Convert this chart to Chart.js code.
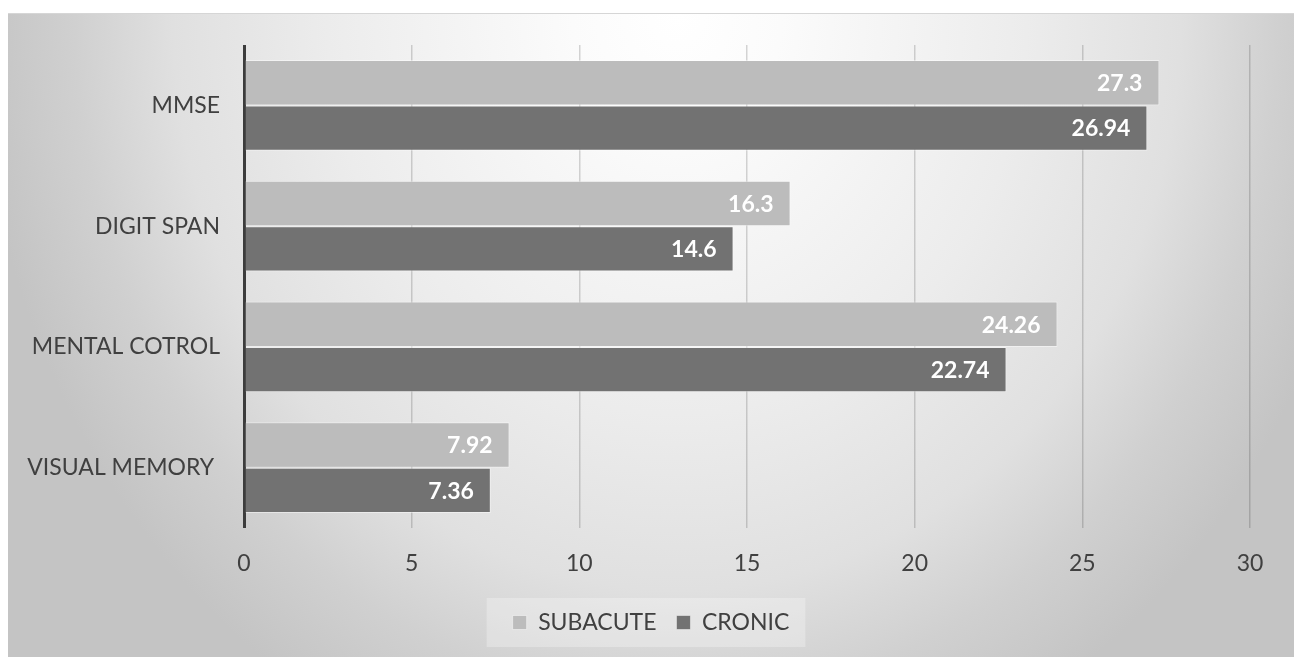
<!DOCTYPE html>
<html>
<head>
<meta charset="utf-8">
<script src="https://cdn.jsdelivr.net/npm/chart.js@4.4.0/dist/chart.umd.min.js"></script>
<style>
  html, body { margin: 0; padding: 0; background: #ffffff; }
  body { width: 1294px; height: 657px; position: relative; overflow: hidden; }
  #wrap {
    position: absolute; left: 8px; top: 13px; width: 1286px; height: 644px;
    background: radial-gradient(ellipse 700px 800px at 669px 0px, #ffffff 0%, #fbfbfb 15%, #ececec 50%, #e0e0e0 72%, #d0d0d0 86%, #c4c4c4 100%);
    border-top: 1px solid #d6d6d6;
    box-sizing: border-box;
  }
  canvas { display: block; }
</style>
</head>
<body>
<div id="wrap"><canvas id="c" width="1286" height="643"></canvas></div>
<script>
const categories = ["MMSE", "DIGIT SPAN", "MENTAL COTROL", "VISUAL MEMORY "];
const subacuteValues = [27.3, 16.3, 24.26, 7.92];
const cronicValues = [26.94, 14.6, 22.74, 7.36];
const seriesNames = ["SUBACUTE", "CRONIC"];
const xTicks = [0, 5, 10, 15, 20, 25, 30];

const FONT = "Lato, 'Open Sans', sans-serif";

const valueLabels = {
  id: 'valueLabels',
  afterDatasetsDraw(chart) {
    const ctx = chart.ctx;
    ctx.save();
    ctx.font = "bold 23px " + FONT;
    ctx.fillStyle = "#ffffff";
    ctx.textAlign = "right";
    ctx.textBaseline = "middle";
    chart.data.datasets.forEach((ds, di) => {
      const meta = chart.getDatasetMeta(di);
      meta.data.forEach((el, i) => {
        ctx.fillText(String(ds.data[i]), el.x - 17, el.y + 1);
      });
    });
    ctx.restore();
  }
};

const legendCenter = {
  id: 'legendCenter',
  afterLayout(chart) {
    const lg = chart.legend;
    if (lg) { lg.left = 0; lg.right = chart.width; lg.width = chart.width; }
  }
};

const legendBg = {
  id: 'legendBg',
  beforeDraw(chart) {
    const lg = chart.legend;
    if (!lg || !lg.legendHitBoxes || !lg.legendHitBoxes.length) return;
    const hb = lg.legendHitBoxes;
    let minX = Infinity, maxX = -Infinity, cy = 0;
    hb.forEach(b => { minX = Math.min(minX, b.left); maxX = Math.max(maxX, b.left + b.width); cy += b.top + b.height / 2; });
    cy /= hb.length;
    const ctx = chart.ctx;
    ctx.save();
    ctx.fillStyle = "rgba(255,255,255,0.28)";
    ctx.fillRect(minX - 26, cy - 24.5, (maxX - minX) + 42, 49);
    ctx.restore();
  }
};

new Chart(document.getElementById('c'), {
  type: 'bar',
  data: {
    labels: categories,
    datasets: [
      { label: seriesNames[0], data: subacuteValues, backgroundColor: "#bcbcbc", borderColor: "rgba(255,255,255,0.45)", borderWidth: 1 },
      { label: seriesNames[1], data: cronicValues, backgroundColor: "#727272", borderColor: "rgba(255,255,255,0.45)", borderWidth: 1 }
    ]
  },
  options: {
    indexAxis: 'y',
    responsive: false,
    animation: false,
    devicePixelRatio: 1,
    layout: { padding: { top: 31, right: 44, left: 0, bottom: 13 } },
    datasets: { bar: { categoryPercentage: 0.75, barPercentage: 1.0 } },
    scales: {
      x: {
        min: 0, max: 30,
        afterBuildTicks(scale) { scale.ticks = xTicks.map(v => ({ value: v })); },
        afterFit(scale) { scale.height = 63; },
        grid: {
          drawTicks: false,
          color: (c) => c.tick && c.tick.value === 0 ? "#3c3c3c" : "rgba(0,0,0,0.16)",
          lineWidth: (c) => c.tick && c.tick.value === 0 ? 3 : 1.5
        },
        border: { display: false },
        ticks: { padding: 22, color: "#404040", font: { family: FONT, size: 23 } }
      },
      y: {
        afterFit(scale) { scale.width = 236; },
        grid: { display: false, drawTicks: true, tickLength: 24, tickColor: 'rgba(0,0,0,0)' },
        border: { display: false },
        ticks: { padding: 0, color: "#404040", font: { family: FONT, size: 23 } }
      }
    },
    plugins: {
      legend: {
        position: 'bottom',
        labels: { boxWidth: 14, boxHeight: 14, padding: 20, color: "#404040", font: { family: FONT, size: 23 } }
      },
      tooltip: { enabled: false }
    }
  },
  plugins: [legendCenter, legendBg, valueLabels]
});
</script>
</body>
</html>
